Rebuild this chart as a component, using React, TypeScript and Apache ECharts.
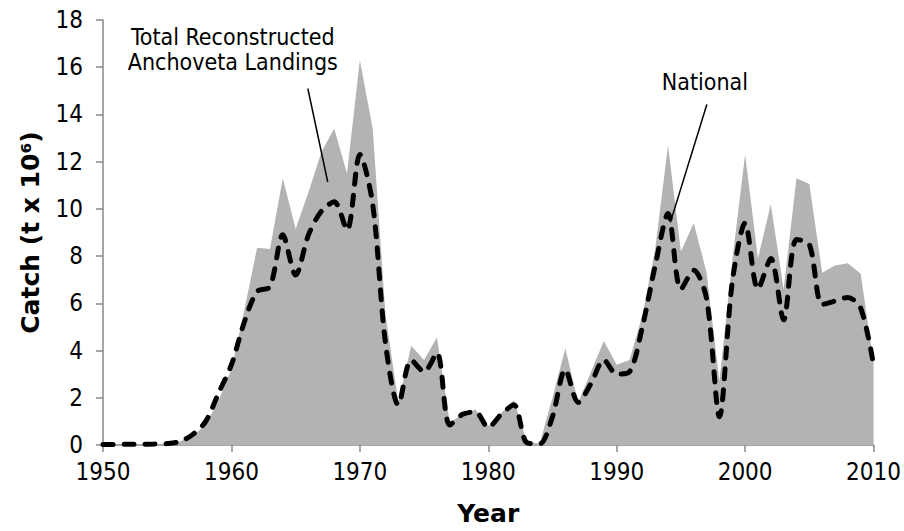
import React, { useEffect, useRef } from "react";
import * as echarts from "echarts";

const years: number[] = [];
for (let y = 1950; y <= 2010; y++) years.push(y);

const totalReconstructed = [
  0, 0, 0, 0.02, 0.04, 0.06, 0.15, 0.4, 0.85, 1.9,
  3.2, 5.7, 8.35, 8.3, 11.3, 9.15, 10.7, 12.4, 13.4, 11.5,
  16.3, 13.4, 5.5, 1.8, 4.2, 3.6, 4.55, 0.95, 1.3, 1.5,
  0.8, 1.35, 1.9, 0.15, 0.05, 2.0, 4.1, 1.8, 3.1, 4.4,
  3.4, 3.6, 5.5, 8.3, 12.7, 8.2, 9.4, 7.3, 2.7, 7.8,
  12.3, 7.9, 10.2, 6.6, 11.3, 11.05, 7.3, 7.6, 7.7, 7.25,
  3.5,
];

const national = [
  0.02, 0.02, 0.03, 0.03, 0.04, 0.06, 0.15, 0.45, 1.0, 2.2,
  3.4, 5.2, 6.5, 6.7, 8.9, 7.2, 8.9, 9.9, 10.3, 9.1,
  12.3, 10.2, 4.3, 1.7, 3.6, 3.1, 3.9, 0.85, 1.3, 1.4,
  0.75, 1.3, 1.7, 0.1, 0.05, 1.2, 3.2, 1.8, 2.6, 3.6,
  3.0, 3.1, 5.0, 7.6, 9.8, 6.6, 7.4, 6.2, 1.2, 6.9,
  9.4, 6.6, 7.9, 5.3, 8.7, 8.5, 5.95, 6.1, 6.25, 5.8,
  3.4,
];

const xTicks = { min: 1950, max: 2010, interval: 10 };
const yTicks = { min: 0, max: 18, interval: 2 };

// annotation leader lines (data coordinates)
const totalLeader = [[1965.95, 15.1], [1967.5, 11.14]];
const nationalLeader = [[1997.02, 14.42], [1994.18, 9.43]];

const FONT = '"DejaVu Sans Condensed", "DejaVu Sans", sans-serif';
const BOLD_FONT = '"DejaVu Sans", sans-serif';

export default function App() {
  const ref = useRef<HTMLDivElement>(null);
  useEffect(() => {
    if (!ref.current) return;
    const chart = echarts.init(ref.current, undefined, { renderer: "svg" });
    const totalData = years.map((y, i) => [y, totalReconstructed[i]]);
    const nationalData = years.map((y, i) => [y, national[i]]);
    chart.setOption({
      animation: false,
      backgroundColor: "#ffffff",
      grid: { left: 103, right: 29, top: 20, bottom: 84, containLabel: false },
      xAxis: {
        type: "value",
        min: xTicks.min,
        max: xTicks.max,
        interval: xTicks.interval,
        name: "Year",
        nameLocation: "middle",
        nameGap: 56,
        nameTextStyle: { fontFamily: BOLD_FONT, fontSize: 25, fontWeight: "bold", color: "#000" },
        axisLine: { lineStyle: { color: "#888888", width: 1.5 } },
        axisTick: { show: true, length: 7, lineStyle: { color: "#888888", width: 1.5 } },
        axisLabel: {
          fontFamily: FONT,
          fontSize: 24,
          color: "#000",
          margin: 15,
          formatter: (v: number) => String(v),
        },
        splitLine: { show: false },
      },
      yAxis: {
        type: "value",
        min: yTicks.min,
        max: yTicks.max,
        interval: yTicks.interval,
        name: "Catch (t x 10⁶)",
        nameLocation: "middle",
        nameGap: 60,
        nameRotate: 90,
        nameTextStyle: { fontFamily: BOLD_FONT, fontSize: 25, fontWeight: "bold", color: "#000" },
        axisLine: { show: true, lineStyle: { color: "#888888", width: 1.5 } },
        axisTick: { show: true, length: 7, lineStyle: { color: "#888888", width: 1.5 } },
        axisLabel: { fontFamily: FONT, fontSize: 24, color: "#000", margin: 20 },
        splitLine: { show: false },
      },
      series: [
        {
          name: "Total Reconstructed Anchoveta Landings",
          type: "line",
          data: totalData,
          symbol: "none",
          lineStyle: { width: 0 },
          areaStyle: { color: "#b3b3b3", opacity: 1 },
          z: 1,
          markLine: {
            silent: true,
            symbol: "none",
            label: { show: false },
            lineStyle: { color: "#000", width: 1.5, type: "solid" },
            data: [
              [{ coord: totalLeader[0] }, { coord: totalLeader[1] }],
              [{ coord: nationalLeader[0] }, { coord: nationalLeader[1] }],
            ],
          },
        },
        {
          name: "National",
          type: "line",
          data: nationalData,
          symbol: "none",
          smooth: 0.3,
          lineStyle: { color: "#000", width: 5, type: [10, 11], cap: "round" },
          z: 3,
        },
      ],
    });
    const p1 = chart.convertToPixel({ gridIndex: 0 }, totalLeader[0]) as number[];
    const p2 = chart.convertToPixel({ gridIndex: 0 }, nationalLeader[0]) as number[];
    chart.setOption({
      graphic: [
        {
          type: "text",
          x: p1[0] - 75,
          y: p1[1] - 39,
          style: {
            text: "Total Reconstructed\nAnchoveta Landings",
            fontFamily: FONT,
            fontSize: 23,
            lineHeight: 25,
            fill: "#000",
            align: "center",
            verticalAlign: "middle",
          },
        },
        {
          type: "text",
          x: p2[0] - 2,
          y: p2[1] - 23,
          style: {
            text: "National",
            fontFamily: FONT,
            fontSize: 23,
            fill: "#000",
            align: "center",
            verticalAlign: "middle",
          },
        },
      ],
    });
    return () => chart.dispose();
  }, []);
  return (
    <div
      ref={ref}
      style={{ position: "fixed", left: 0, top: 0, width: 904, height: 531 }}
    />
  );
}
